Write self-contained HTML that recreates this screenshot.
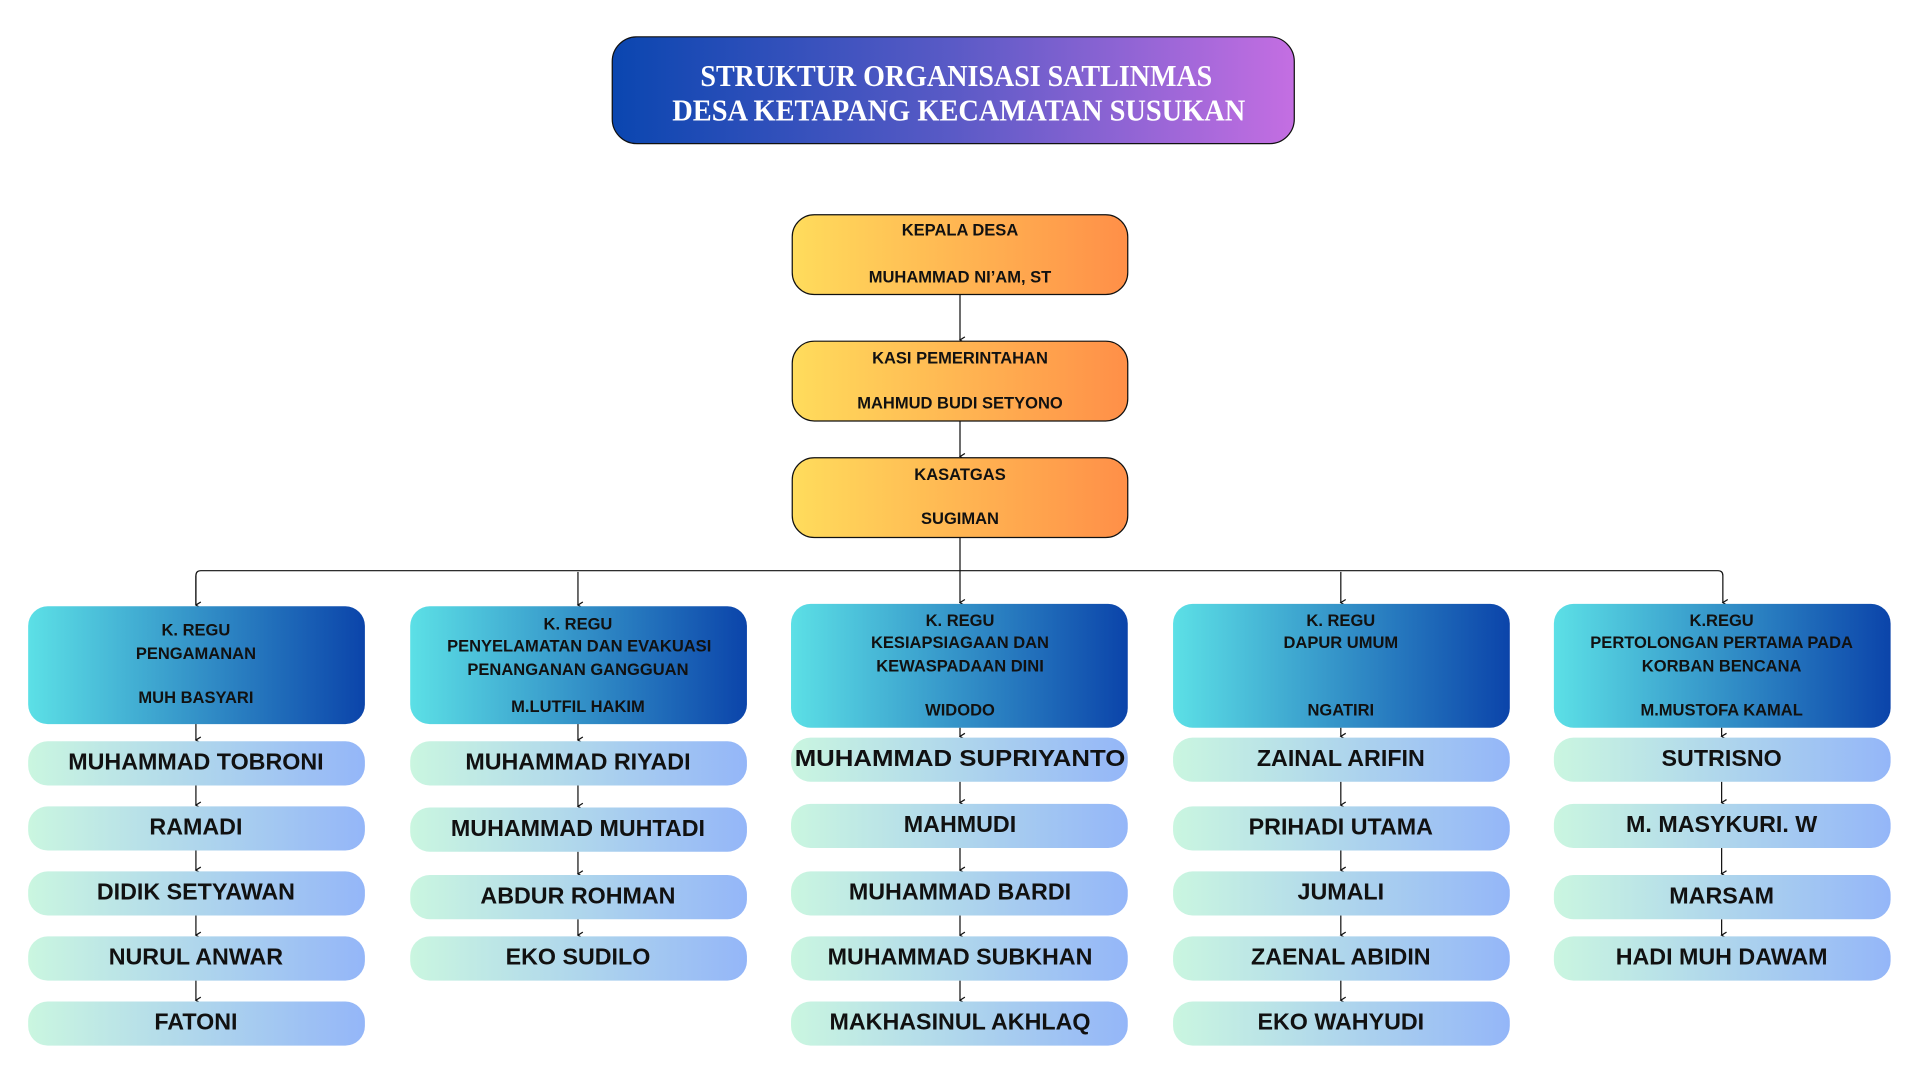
<!DOCTYPE html>
<html><head><meta charset="utf-8"><style>html,body{margin:0;padding:0;background:#fff;}svg{display:block}</style></head>
<body>
<svg width="1920" height="1080" viewBox="0 0 1568 880" preserveAspectRatio="none" xmlns="http://www.w3.org/2000/svg">
<defs>
<linearGradient id="gt" x1="0" x2="1"><stop offset="0" stop-color="#0a46b0"/><stop offset="0.5" stop-color="#5a5ac6"/><stop offset="1" stop-color="#c46ee2"/></linearGradient>
<linearGradient id="go" x1="0" x2="1"><stop offset="0" stop-color="#ffdc5c"/><stop offset="1" stop-color="#ff8f48"/></linearGradient>
<linearGradient id="gb" x1="0" x2="1"><stop offset="0" stop-color="#5ce0e6"/><stop offset="1" stop-color="#0b44aa"/></linearGradient>
<linearGradient id="gm" x1="0" x2="1"><stop offset="0" stop-color="#caf6e0"/><stop offset="1" stop-color="#94b6f8"/></linearGradient>
<marker id="ar" markerWidth="6" markerHeight="6" refX="3" refY="5" orient="auto-start-reverse" markerUnits="userSpaceOnUse"><path d="M0.5,1 L3,5 L5.5,1" fill="none" stroke="#111" stroke-width="1"/></marker>
</defs>
<g font-family="Liberation Sans, sans-serif" font-weight="bold" text-anchor="middle" fill="#111">
<rect x="500" y="30" width="557" height="87" rx="20" fill="url(#gt)" stroke="#111" stroke-width="1"/>
<text x="781" y="70" font-family="Liberation Serif, serif" font-size="25" fill="#fff" textLength="418" lengthAdjust="spacingAndGlyphs">STRUKTUR ORGANISASI SATLINMAS</text>
<text x="783" y="98" font-family="Liberation Serif, serif" font-size="25" fill="#fff" textLength="468" lengthAdjust="spacingAndGlyphs">DESA KETAPANG KECAMATAN SUSUKAN</text>

<g stroke="#111" stroke-width="1" fill="none">
<line x1="784" y1="240" x2="784" y2="277" marker-end="url(#ar)"/>
<line x1="784" y1="343" x2="784" y2="372" marker-end="url(#ar)"/>
<path d="M784,438 V465"/>
<path d="M160,492 V469 Q160,465 164,465 H1403 Q1407,465 1407,469 V491" marker-end="url(#ar)"/>
<line x1="160" y1="469" x2="160" y2="493" marker-end="url(#ar)"/>
<line x1="472" y1="466" x2="472" y2="493" marker-end="url(#ar)"/>
<line x1="784" y1="465" x2="784" y2="491" marker-end="url(#ar)"/>
<line x1="1095" y1="466" x2="1095" y2="491" marker-end="url(#ar)"/>
</g>

<g stroke="#111" stroke-width="1">
<rect x="647" y="175" width="274" height="65" rx="18" fill="url(#go)"/>
<rect x="647" y="278" width="274" height="65" rx="18" fill="url(#go)"/>
<rect x="647" y="373" width="274" height="65" rx="18" fill="url(#go)"/>
</g>
<g font-size="13.5">
<text x="784" y="192">KEPALA DESA</text><text x="784" y="230">MUHAMMAD NI’AM, ST</text>
<text x="784" y="296">KASI PEMERINTAHAN</text><text x="784" y="333">MAHMUD BUDI SETYONO</text>
<text x="784" y="391">KASATGAS</text><text x="784" y="427">SUGIMAN</text>
</g>

<g fill="url(#gb)">
<rect x="23" y="494" width="275" height="96" rx="16"/>
<rect x="335" y="494" width="275" height="96" rx="16"/>
<rect x="646" y="492" width="275" height="101" rx="16"/>
<rect x="958" y="492" width="275" height="101" rx="16"/>
<rect x="1269" y="492" width="275" height="101" rx="16"/>
</g>
<g font-size="13.5">
<text x="160" y="518">K. REGU</text><text x="160" y="537">PENGAMANAN</text><text x="160" y="573">MUH BASYARI</text>
<text x="472" y="513">K. REGU</text><text x="473" y="531">PENYELAMATAN DAN EVAKUASI</text><text x="472" y="550">PENANGANAN GANGGUAN</text><text x="472" y="580">M.LUTFIL HAKIM</text>
<text x="784" y="510">K. REGU</text><text x="784" y="528">KESIAPSIAGAAN DAN</text><text x="784" y="547">KEWASPADAAN DINI</text><text x="784" y="583">WIDODO</text>
<text x="1095" y="510">K. REGU</text><text x="1095" y="528">DAPUR UMUM</text><text x="1095" y="583">NGATIRI</text>
<text x="1406" y="510">K.REGU</text><text x="1406" y="528">PERTOLONGAN PERTAMA PADA</text><text x="1406" y="547">KORBAN BENCANA</text><text x="1406" y="583">M.MUSTOFA KAMAL</text>
</g>

<g stroke="#111" stroke-width="1">
<line x1="160" y1="590" x2="160" y2="603" marker-end="url(#ar)"/><line x1="160" y1="640" x2="160" y2="656" marker-end="url(#ar)"/><line x1="160" y1="693" x2="160" y2="709" marker-end="url(#ar)"/><line x1="160" y1="746" x2="160" y2="762" marker-end="url(#ar)"/><line x1="160" y1="799" x2="160" y2="815" marker-end="url(#ar)"/>
<line x1="472" y1="590" x2="472" y2="603" marker-end="url(#ar)"/><line x1="472" y1="640" x2="472" y2="657" marker-end="url(#ar)"/><line x1="472" y1="694" x2="472" y2="712" marker-end="url(#ar)"/><line x1="472" y1="749" x2="472" y2="762" marker-end="url(#ar)"/>
<line x1="784" y1="593" x2="784" y2="600" marker-end="url(#ar)"/><line x1="784" y1="637" x2="784" y2="654" marker-end="url(#ar)"/><line x1="784" y1="691" x2="784" y2="709" marker-end="url(#ar)"/><line x1="784" y1="746" x2="784" y2="762" marker-end="url(#ar)"/><line x1="784" y1="799" x2="784" y2="815" marker-end="url(#ar)"/>
<line x1="1095" y1="593" x2="1095" y2="600" marker-end="url(#ar)"/><line x1="1095" y1="637" x2="1095" y2="656" marker-end="url(#ar)"/><line x1="1095" y1="693" x2="1095" y2="709" marker-end="url(#ar)"/><line x1="1095" y1="746" x2="1095" y2="762" marker-end="url(#ar)"/><line x1="1095" y1="799" x2="1095" y2="815" marker-end="url(#ar)"/>
<line x1="1406" y1="593" x2="1406" y2="600" marker-end="url(#ar)"/><line x1="1406" y1="637" x2="1406" y2="654" marker-end="url(#ar)"/><line x1="1406" y1="691" x2="1406" y2="712" marker-end="url(#ar)"/><line x1="1406" y1="749" x2="1406" y2="762" marker-end="url(#ar)"/>
</g>

<g fill="url(#gm)">
<rect x="23" y="604" width="275" height="36" rx="16"/><rect x="23" y="657" width="275" height="36" rx="16"/><rect x="23" y="710" width="275" height="36" rx="16"/><rect x="23" y="763" width="275" height="36" rx="16"/><rect x="23" y="816" width="275" height="36" rx="16"/>
<rect x="335" y="604" width="275" height="36" rx="16"/><rect x="335" y="658" width="275" height="36" rx="16"/><rect x="335" y="713" width="275" height="36" rx="16"/><rect x="335" y="763" width="275" height="36" rx="16"/>
<rect x="646" y="601" width="275" height="36" rx="16"/><rect x="646" y="655" width="275" height="36" rx="16"/><rect x="646" y="710" width="275" height="36" rx="16"/><rect x="646" y="763" width="275" height="36" rx="16"/><rect x="646" y="816" width="275" height="36" rx="16"/>
<rect x="958" y="601" width="275" height="36" rx="16"/><rect x="958" y="657" width="275" height="36" rx="16"/><rect x="958" y="710" width="275" height="36" rx="16"/><rect x="958" y="763" width="275" height="36" rx="16"/><rect x="958" y="816" width="275" height="36" rx="16"/>
<rect x="1269" y="601" width="275" height="36" rx="16"/><rect x="1269" y="655" width="275" height="36" rx="16"/><rect x="1269" y="713" width="275" height="36" rx="16"/><rect x="1269" y="763" width="275" height="36" rx="16"/>
</g>
<g font-size="19">
<text x="160" y="627">MUHAMMAD TOBRONI</text><text x="160" y="680">RAMADI</text><text x="160" y="733">DIDIK SETYAWAN</text><text x="160" y="786">NURUL ANWAR</text><text x="160" y="839">FATONI</text>
<text x="472" y="627">MUHAMMAD RIYADI</text><text x="472" y="681">MUHAMMAD MUHTADI</text><text x="472" y="736">ABDUR ROHMAN</text><text x="472" y="786">EKO SUDILO</text>
<text x="784" y="624" textLength="270" lengthAdjust="spacingAndGlyphs">MUHAMMAD SUPRIYANTO</text><text x="784" y="678">MAHMUDI</text><text x="784" y="733">MUHAMMAD BARDI</text><text x="784" y="786">MUHAMMAD SUBKHAN</text><text x="784" y="839">MAKHASINUL AKHLAQ</text>
<text x="1095" y="624">ZAINAL ARIFIN</text><text x="1095" y="680">PRIHADI UTAMA</text><text x="1095" y="733">JUMALI</text><text x="1095" y="786">ZAENAL ABIDIN</text><text x="1095" y="839">EKO WAHYUDI</text>
<text x="1406" y="624">SUTRISNO</text><text x="1406" y="678">M. MASYKURI. W</text><text x="1406" y="736">MARSAM</text><text x="1406" y="786">HADI MUH DAWAM</text>
</g>
</g>
</svg>
</body></html>
